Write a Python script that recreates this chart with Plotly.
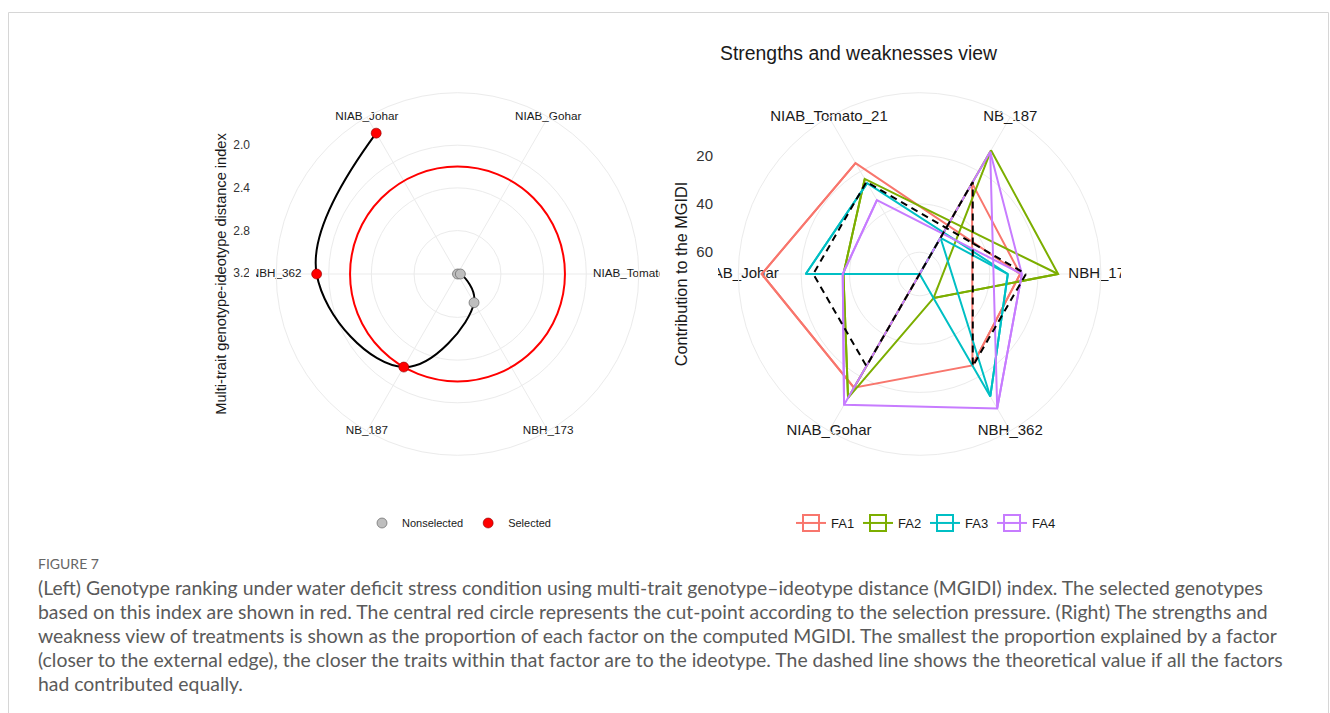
import plotly.graph_objects as go

W, H = 1330, 713

# ---------------- data ----------------
# Left: MGIDI index (angular order of the categories, clockwise from 60 deg)
left_genotypes = ["NIAB_Gohar", "NIAB_Tomato_21", "NBH_173", "NB_187", "NBH_362", "NIAB_Johar"]
mgidi = [3.207, 3.18, 2.897, 2.200, 1.887, 1.683]
selected = [False, False, False, True, True, True]
cutpoint = 2.200
left_ticks = [2.0, 2.4, 2.8, 3.2]

# Right: contribution (%) of each factor to the MGIDI
right_genotypes = ["NB_187", "NBH_173", "NBH_362", "NIAB_Gohar", "NIAB_Johar", "NIAB_Tomato_21"]
fa1 = [25.6, 27.4, 25.3, 14.7, 3.7, 16.0]
fa2 = [9.9, 11.7, 57.5, 9.8, 37.5, 23.6]
fa3 = [51.7, 32.5, 10.5, 69.0, 21.9, 25.6]
fa4 = [10.6, 26.7, 4.8, 6.5, 37.2, 33.7]
equal_share = 25.0
polygon_order = ["NBH_173", "NBH_362", "NB_187", "NIAB_Gohar", "NIAB_Johar", "NIAB_Tomato_21"]
line_order = ["NB_187", "NBH_173", "NBH_362", "NIAB_Gohar", "NIAB_Johar", "NIAB_Tomato_21"]
right_ticks = [20, 40, 60]
factors = ["FA1", "FA2", "FA3", "FA4"]
factor_values = [fa1, fa2, fa3, fa4]

# ---------------- style ----------------
FONT = "Liberation Sans, Arial, sans-serif"
CAP_FONT = "Lato, sans-serif"
GRID = "#EBEBEB"
FA_COLORS = ["#F8766D", "#7CAE00", "#00BFC4", "#C77CFF"]
LEFT_RANGE = [3.207, 1.508]
RIGHT_RANGE = [69.0, -6.0]


def px(x):
    return x / W


def py(y):
    return 1 - y / H


left_dom = dict(x=[px(276.2), px(638.8)], y=[py(455.3), py(92.7)])
right_dom = dict(x=[px(738.3), px(1100.9)], y=[py(455.3), py(92.7)])


def angular(cats, grid=True):
    return dict(type="category", categoryorder="array", categoryarray=cats,
                rotation=60, direction="clockwise", showgrid=grid, gridcolor=GRID,
                gridwidth=1, showline=grid, linecolor=GRID, linewidth=1,
                ticks="", showticklabels=False)


def radial(rng, ticks, gridcolor=GRID, gridwidth=1, grid=True):
    return dict(range=rng, tickvals=ticks, showgrid=grid, gridcolor=gridcolor,
                gridwidth=gridwidth, showline=False, ticks="", showticklabels=False)


fig = go.Figure()

# empty cartesian traces so that the radial scale axes (drawn as y axes) exist
fig.add_trace(go.Scatter(x=[None], y=[None], xaxis="x", yaxis="y", showlegend=False, hoverinfo="skip"))
fig.add_trace(go.Scatter(x=[None], y=[None], xaxis="x2", yaxis="y2", showlegend=False, hoverinfo="skip"))

# ---- left chart ----
fig.add_trace(go.Scatterpolar(
    r=[LEFT_RANGE[1]] * len(left_genotypes), theta=left_genotypes, mode="text",
    text=left_genotypes, textfont=dict(family=FONT, size=11.7, color="#1a1a1a"),
    cliponaxis=False, subplot="polar", showlegend=False, hoverinfo="skip"))

fig.add_trace(go.Scatterpolar(
    r=mgidi, theta=left_genotypes, mode="lines",
    line=dict(color="black", width=2, shape="spline", smoothing=1.2),
    subplot="polar2", showlegend=False, hoverinfo="skip"))

ns_theta = [g for g, s in zip(left_genotypes, selected) if not s]
ns_r = [v for v, s in zip(mgidi, selected) if not s]
s_theta = [g for g, s in zip(left_genotypes, selected) if s]
s_r = [v for v, s in zip(mgidi, selected) if s]
fig.add_trace(go.Scatterpolar(
    r=ns_r, theta=ns_theta, mode="markers", name="Nonselected",
    marker=dict(size=10, color="#BEBEBE", line=dict(color="#555555", width=0.6)),
    subplot="polar2", legend="legend", cliponaxis=False))
fig.add_trace(go.Scatterpolar(
    r=s_r, theta=s_theta, mode="markers", name="Selected",
    marker=dict(size=10, color="#FF0000", line=dict(color="#8B0000", width=0.6)),
    subplot="polar2", legend="legend", cliponaxis=False))

# ---- right chart ----
fig.add_trace(go.Scatterpolar(
    r=[RIGHT_RANGE[1]] * len(right_genotypes), theta=right_genotypes, mode="text",
    text=right_genotypes, textfont=dict(family=FONT, size=15, color="#1a1a1a"),
    cliponaxis=False, subplot="polar3", showlegend=False, hoverinfo="skip"))

for name, vals, col in zip(factors, factor_values, FA_COLORS):
    lookup = dict(zip(right_genotypes, vals))
    poly_theta = polygon_order + [polygon_order[0]]
    fig.add_trace(go.Scatterpolar(
        r=[lookup[g] for g in poly_theta], theta=poly_theta, mode="lines",
        line=dict(color=col, width=2), subplot="polar3", showlegend=False,
        hoverinfo="skip"))
    fig.add_trace(go.Scatterpolar(
        r=[lookup[g] for g in line_order], theta=line_order, mode="lines",
        line=dict(color=col, width=2), subplot="polar3", showlegend=False,
        hoverinfo="skip"))

poly_theta = polygon_order + [polygon_order[0]]
fig.add_trace(go.Scatterpolar(
    r=[equal_share] * len(poly_theta), theta=poly_theta, mode="lines",
    line=dict(color="black", width=2, dash="7px,5px"), subplot="polar3",
    showlegend=False, hoverinfo="skip"))

# legend-only keys for the factors
for name, col in zip(factors, FA_COLORS):
    fig.add_trace(go.Scatterpolar(
        r=[None], theta=[None], mode="lines+markers", name=name,
        line=dict(color=col, width=2),
        marker=dict(symbol="square-open", size=16, color=col, line=dict(color=col, width=2)),
        subplot="polar3", legend="legend2"))

# ---------------- layout ----------------
fig.update_layout(
    template="none",
    width=W, height=H, autosize=False,
    margin=dict(l=0, r=0, t=0, b=0),
    paper_bgcolor="white", plot_bgcolor="rgba(0,0,0,0)",
    font=dict(family=FONT, color="#1a1a1a"),
    polar=dict(domain=left_dom, bgcolor="white",
               radialaxis=radial(LEFT_RANGE, left_ticks),
               angularaxis=angular(left_genotypes)),
    polar2=dict(domain=left_dom, bgcolor="rgba(0,0,0,0)",
                radialaxis=radial(LEFT_RANGE, [cutpoint], gridcolor="#FF0000", gridwidth=2),
                angularaxis=angular(left_genotypes, grid=False)),
    polar3=dict(domain=right_dom, bgcolor="white",
                radialaxis=radial(RIGHT_RANGE, right_ticks),
                angularaxis=angular(right_genotypes)),
    xaxis=dict(domain=[px(251), px(256)], visible=False, range=[0, 1], fixedrange=True),
    yaxis=dict(domain=left_dom["y"], anchor="x", range=[2 * LEFT_RANGE[0] - LEFT_RANGE[1], LEFT_RANGE[1]],
               tickvals=left_ticks, ticktext=[f"{t:.1f}" for t in left_ticks],
               showgrid=False, zeroline=False, showline=False, ticks="", fixedrange=True,
               tickfont=dict(size=12, color="#333333"),
               title=dict(text="Multi-trait genotype-ideotype distance index",
                          font=dict(size=14.6, color="#1a1a1a"), standoff=3)),
    xaxis2=dict(domain=[px(714), px(718)], visible=False, range=[0, 1], fixedrange=True),
    yaxis2=dict(domain=right_dom["y"], anchor="x2", range=[2 * RIGHT_RANGE[0] - RIGHT_RANGE[1], RIGHT_RANGE[1]],
                tickvals=right_ticks, ticktext=[str(t) for t in right_ticks],
                showgrid=False, zeroline=False, showline=False, ticks="", fixedrange=True,
                tickfont=dict(size=15, color="#333333"),
                title=dict(text="Contribution to the MGIDI",
                           font=dict(size=16.3, color="#1a1a1a"), standoff=4)),
    legend=dict(orientation="h", x=px(362), y=py(523), xanchor="left", yanchor="middle",
                font=dict(size=11), bgcolor="rgba(0,0,0,0)", itemclick=False),
    legend2=dict(orientation="h", x=px(791), y=py(523), xanchor="left", yanchor="middle",
                 font=dict(size=13), bgcolor="rgba(0,0,0,0)", itemclick=False,
                 entrywidth=22, entrywidthmode="pixels"),
)

# frame + clipping masks (ggplot panels clip their outer labels)
shapes = [
    dict(type="rect", xref="paper", yref="paper", x0=px(8.5), x1=px(1328.5), y0=-0.05, y1=py(12.5),
         line=dict(color="#D6D6D6", width=1), fillcolor="rgba(0,0,0,0)", layer="below"),
]
for x0, x1 in [(249, 256), (659.5, 718), (1121, 1145)]:
    shapes.append(dict(type="rect", xref="paper", yref="paper", x0=px(x0), x1=px(x1),
                       y0=py(286), y1=py(262), line=dict(width=0), fillcolor="white", layer="above"))
fig.update_layout(shapes=shapes)

annotations = [
    dict(text="Strengths and weaknesses view", x=px(718), y=py(53), xanchor="left", yanchor="middle",
         font=dict(size=19.4, color="#1a1a1a")),
    dict(text="FIGURE 7", x=px(36), y=py(563), xanchor="left", yanchor="middle",
         font=dict(size=14, color="#666666", family=CAP_FONT)),
]
caption = [
    "(Left) Genotype ranking under water deficit stress condition using multi-trait genotype\u2013ideotype distance (MGIDI) index. The selected genotypes",
    "based on this index are shown in red. The central red circle represents the cut-point according to the selection pressure. (Right) The strengths and",
    "weakness view of treatments is shown as the proportion of each factor on the computed MGIDI. The smallest the proportion explained by a factor",
    "(closer to the external edge), the closer the traits within that factor are to the ideotype. The dashed line shows the theoretical value if all the factors",
    "had contributed equally.",
]
for i, line in enumerate(caption):
    annotations.append(dict(text=line, x=px(36), y=py(587 + 24 * i), xanchor="left", yanchor="middle",
                            font=dict(size=19.4, color="#5a5a5a", family=CAP_FONT)))
for a in annotations:
    a.update(xref="paper", yref="paper", showarrow=False)
fig.update_layout(annotations=annotations)

fig.write_html("out.html", config={"displayModeBar": False},
               post_script="document.body.style.margin='0px';")
